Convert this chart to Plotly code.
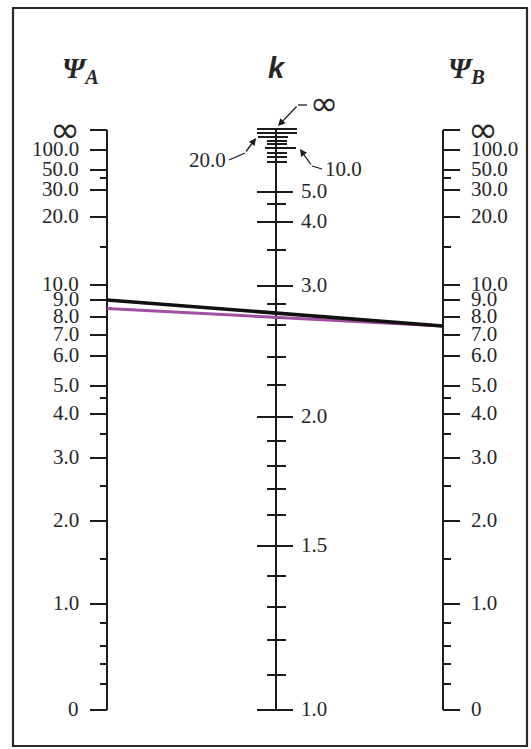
import numpy as np
import plotly.graph_objects as go

# ---- scale data -------------------------------------------------------------
# Psi (G) scales: tick values and their distance above the scale base (0).
g_major_labels = ["∞", "100.0", "50.0", "30.0", "20.0", "10.0", "9.0", "8.0",
                  "7.0", "6.0", "5.0", "4.0", "3.0", "2.0", "1.0", "0"]
g_major_values = [np.inf, 100, 50, 30, 20, 10, 9, 8, 7, 6, 5, 4, 3, 2, 1, 0]
g_major_pos = [580, 560, 540, 520, 493, 425, 410, 393, 375, 354, 324, 296,
               252, 189, 106, 0]
g_minor_values = [40, 15, 4.5, 3.5, 2.5, 1.5, 0.8, 0.6, 0.4, 0.2]
g_minor_pos = [532, 463, 312, 276, 224, 151, 87, 64, 46, 26]

# k scale
k_labeled = ["5.0", "4.0", "3.0", "2.0", "1.5", "1.0"]
k_labeled_values = [5.0, 4.0, 3.0, 2.0, 1.5, 1.0]
k_labeled_pos = [518, 488, 424, 293, 164, 0]
k_inf_pos = [581, 577]            # double line at k = infinity
k_20_pos = 573
k_10_pos = 562
k_top_minor_pos = [569, 566, 557, 553, 548]
k_minor_values = [4.5, 3.5, 2.8, 2.6, 2.4, 2.2, 1.9, 1.8, 1.7, 1.6,
                  1.4, 1.3, 1.2, 1.1]
k_minor_pos = [506, 460, 406, 385, 353, 325, 269, 244, 221, 195,
               134, 103, 70, 35]

# Solution lines: Psi_A -> Psi_B
black_line = (9.0, 7.5)
purple_line = (8.5, 7.5)

# ---- layout geometry (page pixels) ------------------------------------------
W, H = 531, 749
BASE_Y = 710          # page y of the scale base
X_A, X_K, X_B = 107, 276, 443
AX = "#1c1c1c"
TXT = "#262626"
SERIF = "Liberation Serif"
INF_FONT = "DejaVu Sans"
LBL = 21


def ypix(pos):
    return BASE_Y - np.asarray(pos, dtype=float)


def g_pos(value):
    """Position on a Psi scale for a finite value (piecewise along the ticks)."""
    vals = [v for v in g_major_values if np.isfinite(v)] + g_minor_values
    poss = [p for v, p in zip(g_major_values, g_major_pos) if np.isfinite(v)] + g_minor_pos
    order = np.argsort(vals)
    return float(np.interp(value, np.array(vals)[order], np.array(poss)[order]))


def segs(pairs):
    xs, ys = [], []
    for (x0, y0, x1, y1) in pairs:
        xs += [x0, x1, None]
        ys += [y0, y1, None]
    return xs, ys


fig = go.Figure()

# axis spines
spines = [(X_A, ypix(g_major_pos[0]), X_A, ypix(0)),
          (X_B, ypix(g_major_pos[0]), X_B, ypix(0)),
          (X_K, ypix(k_inf_pos[0]), X_K, ypix(0))]
xs, ys = segs(spines)
fig.add_trace(go.Scatter(x=xs, y=ys, mode="lines",
                         line=dict(color=AX, width=2), hoverinfo="skip"))

# Psi ticks
tick_pairs = []
for p in g_major_pos:
    y = float(ypix(p))
    tick_pairs.append((X_A - 17, y, X_A, y))
    tick_pairs.append((X_B, y, X_B + 17, y))
for p in g_minor_pos:
    y = float(ypix(p))
    tick_pairs.append((X_A - 7, y, X_A, y))
    tick_pairs.append((X_B, y, X_B + 8, y))
# k ticks
for p in k_inf_pos:
    y = float(ypix(p))
    tick_pairs.append((X_K - 19, y, X_K + 21, y))
y = float(ypix(k_20_pos))
tick_pairs.append((X_K - 18, y, X_K + 12, y))
y = float(ypix(k_10_pos))
tick_pairs.append((X_K - 11, y, X_K + 20, y))
for p in k_top_minor_pos:
    y = float(ypix(p))
    tick_pairs.append((X_K - 9, y, X_K + 11, y))
for p in k_labeled_pos:
    y = float(ypix(p))
    tick_pairs.append((X_K - 19, y, X_K + 17, y))
for p in k_minor_pos:
    y = float(ypix(p))
    tick_pairs.append((X_K - 9, y, X_K + 10, y))
xs, ys = segs(tick_pairs)
fig.add_trace(go.Scatter(x=xs, y=ys, mode="lines",
                         line=dict(color=AX, width=2), hoverinfo="skip"))

# solution lines
pa, pb = g_pos(purple_line[0]), g_pos(purple_line[1])
fig.add_trace(go.Scatter(x=[X_A, X_B], y=[float(ypix(pa)), float(ypix(pb))],
                         mode="lines", line=dict(color="#a04fa3", width=3),
                         hoverinfo="skip"))
ba, bb = g_pos(black_line[0]), g_pos(black_line[1])
fig.add_trace(go.Scatter(x=[X_A, X_B], y=[float(ypix(ba)), float(ypix(bb))],
                         mode="lines", line=dict(color="#111111", width=3.6),
                         hoverinfo="skip"))

annotations = []


def label(x, y, text, anchor, size=LBL, family=SERIF, color=TXT):
    annotations.append(dict(x=x, y=y, text=text, showarrow=False,
                            xanchor=anchor, yanchor="middle",
                            font=dict(family=family, size=size, color=color)))


# Psi scale labels
for lab, p in zip(g_major_labels, g_major_pos):
    y = float(ypix(p))
    if lab == "∞":
        label(X_A - 25, y - 1, lab, "right", size=36, family=INF_FONT)
        label(X_B + 23, y - 1, lab, "left", size=36, family=INF_FONT)
    else:
        label(X_A - 26, y - 1, lab, "right")
        label(X_B + 26, y - 1, lab, "left")

# k scale labels
for lab, p in zip(k_labeled, k_labeled_pos):
    label(X_K + 23, float(ypix(p)) - 1, lab, "left")

# leaders for the compressed top of the k scale
y20 = float(ypix(k_20_pos))
y10 = float(ypix(k_10_pos))
yinf = float(ypix(k_inf_pos[0]))
lead = [(229, y20 + 23, 245, y20 + 16), (312, y10 + 18, 322, y10 + 21),
        (298, yinf - 24, 307, yinf - 24)]
xs, ys = segs(lead)
fig.add_trace(go.Scatter(x=xs, y=ys, mode="lines",
                         line=dict(color=AX, width=1.3), hoverinfo="skip"))
for (tx, ty, hx, hy) in [(245, y20 + 16, X_K - 20, y20 + 1),
                         (312, y10 + 18, X_K + 24, y10 + 1),
                         (298, yinf - 24, X_K + 2, yinf - 3)]:
    annotations.append(dict(x=hx, y=hy, ax=tx, ay=ty, axref="x", ayref="y",
                            xref="x", yref="y", showarrow=True, text="",
                            arrowhead=2, arrowsize=1.1, arrowwidth=1.3,
                            arrowcolor=AX))
label(228, y20 + 23, "20.0", "right")
label(323, y10 + 21, "10.0", "left")
label(308, yinf - 26, "∞", "left", size=34, family=INF_FONT)

# column titles
label(80, 70, "<b><i>Ψ<sub>A</sub></i></b>", "center", size=29)
label(277, 68, "<b><i>k</i></b>", "center", size=29, family="Liberation Sans")
label(466, 70, "<b><i>Ψ<sub>B</sub></i></b>", "center", size=29)

fig.update_layout(
    width=W, height=H,
    margin=dict(l=0, r=0, t=0, b=0),
    paper_bgcolor="white", plot_bgcolor="white",
    showlegend=False,
    xaxis=dict(range=[0, W], visible=False, fixedrange=True),
    yaxis=dict(range=[H, 0], visible=False, fixedrange=True),
    annotations=annotations,
    shapes=[dict(type="rect", xref="x", yref="y", x0=13, y0=8, x1=527, y1=746,
                 line=dict(color="#2a2a2a", width=2.2), fillcolor="rgba(0,0,0,0)")],
)

fig.write_html("out.html")
